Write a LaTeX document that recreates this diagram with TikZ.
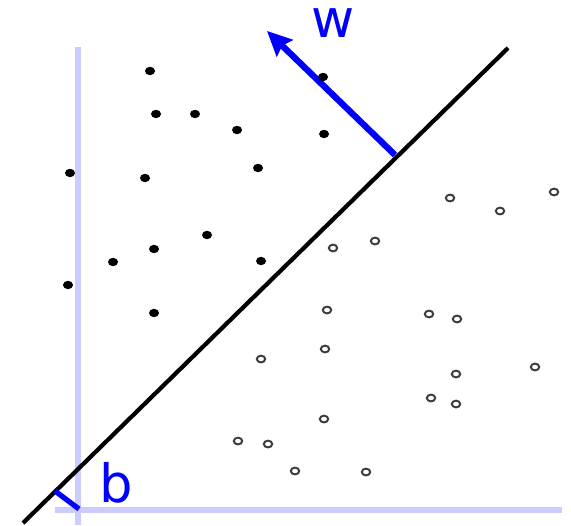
\documentclass[tikz,border=0pt]{standalone}
\usepackage{fontspec}
\usepackage{tikz}
\usetikzlibrary{arrows.meta}
\newfontfamily\labelfont{DejaVu Sans}
\definecolor{AxisLav}{RGB}{204, 204, 255}
\definecolor{VecBlue}{RGB}{0, 0, 255}
\definecolor{RingGray}{RGB}{60, 60, 60}

\begin{document}
\begin{tikzpicture}[x=0.01cm, y=-0.01cm,
    axisline/.style={draw=AxisLav, line width=1.6pt},
    plane/.style={draw=black, line width=1.2pt},
    vecline/.style={draw=VecBlue, line width=1.8pt},
    posdot/.style={fill=black},
    negdot/.style={draw=RingGray, line width=0.55pt, fill=white},
    lbl/.style={text=VecBlue, font=\labelfont\fontsize{15}{18}\selectfont, inner sep=0pt}
  ]
    \useasboundingbox (0,0) rectangle (571,525);
    % axes
    \coordinate (ytop) at (78,47);
    \coordinate (ybot) at (78,525);
    \coordinate (xleft) at (55,510);
    \coordinate (xright) at (562,510);
    \draw[axisline] (ytop) -- (ybot);
    \draw[axisline] (xleft) -- (xright);
    % separating line
    \coordinate (planelo) at (23,523);
    \coordinate (planehi) at (508,48);
    \draw[plane] (planelo) -- (planehi);
    % normal vector w
    \coordinate (wfoot) at (395,155);
    \coordinate (wtip) at (267,31);
    \draw[vecline, -{Stealth[length=7pt, width=6.5pt, inset=1pt]}] (wfoot) -- (wtip);
    \node[lbl, anchor=base] (wlabel) at (333,38) {w};
    % offset b
    \coordinate (bfoot) at (55,491);
    \coordinate (origin) at (79,509);
    \draw[vecline, line width=1.5pt] (bfoot) -- (origin);
    \node[lbl, anchor=base] (blabel) at (116,502) {b};
    % class +1
    \foreach \px/\py in {150/71, 323/77, 156/114, 195/114, 237/130, 324/134,
        70/173, 145/178, 258/168, 207/235, 154/249, 113/262, 261/261,
        68/285, 154/313}
      \fill[posdot] (\px,\py) ellipse [x radius=5, y radius=4.2];
    % class -1
    \foreach \px/\py in {450/198, 554/192, 500/211, 375/241, 333/248,
        327/310, 429/314, 457/319, 325/349, 261/359, 456/374, 535/367,
        431/398, 456/404, 324/419, 238/441, 268/444, 295/471, 366/472}
      \filldraw[negdot] (\px,\py) ellipse [x radius=4.2, y radius=3.4];
  \end{tikzpicture}
\end{document}
